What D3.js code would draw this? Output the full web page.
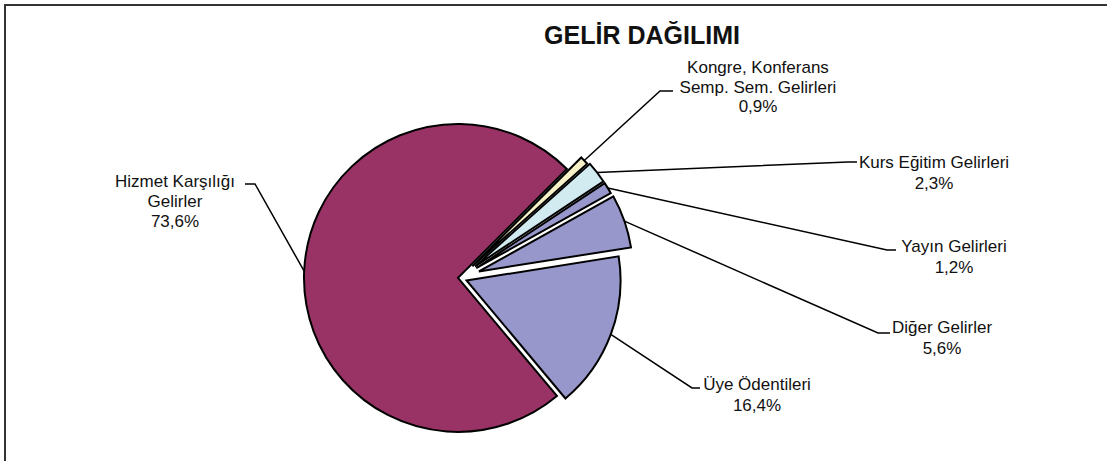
<!DOCTYPE html>
<html>
<head>
<meta charset="utf-8">
<script src="https://cdn.jsdelivr.net/npm/d3@7"></script>
<style>
  body { margin: 0; background: #fff; }
  text { font-family: "Liberation Sans", Arial, sans-serif; fill: #111; }
  .title { font-weight: bold; font-size: 25px; }
  .lbl { font-size: 17px; }
</style>
</head>
<body>
<div id="chart"></div>
<script>
const TITLE = 'GELİR DAĞILIMI';

// slices in clockwise order, starting from the small ones at the upper right
const names = ['Kongre', 'Kurs', 'Yayin', 'Diger', 'Uye', 'Hizmet'];
const values = [0.9, 2.3, 1.2, 5.6, 16.4, 73.6];
const labelLines = [
  ['Kongre, Konferans', 'Semp. Sem. Gelirleri', '0,9%'],
  ['Kurs Eğitim Gelirleri', '2,3%'],
  ['Yayın Gelirleri', '1,2%'],
  ['Diğer Gelirler', '5,6%'],
  ['Üye Ödentileri', '16,4%'],
  ['Hizmet Karşılığı', 'Gelirler', '73,6%'],
];
const colors = ['#f6f1c6', '#d2ebf1', '#9797cb', '#9797cb', '#9797cb', '#993366'];

const W = 1107, H = 461;
const cfg = {
  cx: 460, cy: 278, r: 154,
  startDeg: 45,
  explode: [17, 19, 19, 20, 7, 2],
};

// label placement: text centre x, first baseline, line gap, and leader elbow / end
const labelPos = {
  Kongre: { x: 758, y: 73, gap: 19.5, elbow: [660, 91], end: [673, 91] },
  Kurs:   { x: 934, y: 168, gap: 21, elbow: [848, 162], end: [857, 162] },
  Yayin:  { x: 954, y: 252, gap: 20.5, elbow: [887, 250], end: [896, 250] },
  Diger:  { x: 942, y: 333, gap: 20.5, elbow: [878, 333], end: [890, 333] },
  Uye:    { x: 757, y: 390, gap: 21, elbow: [692, 388], end: [700, 388] },
  Hizmet: { x: 175, y: 187, gap: 20, elbow: [255, 184], end: [245, 184] },
};

const svg = d3.select('#chart').append('svg')
  .attr('width', W)
  .attr('height', H);

// chart area frame (right / bottom edges fall outside the window)
svg.append('rect')
  .attr('x', 5).attr('y', 5)
  .attr('width', W + 20).attr('height', H + 20)
  .attr('fill', 'none')
  .attr('stroke', '#333')
  .attr('stroke-width', 2);

svg.append('text')
  .classed('title', true)
  .attr('x', 642).attr('y', 44)
  .attr('text-anchor', 'middle')
  .text(TITLE);

const rad = Math.PI / 180;
const pie = d3.pie()
  .sort(null)
  .value(d => d)
  .startAngle(cfg.startDeg * rad)
  .endAngle((cfg.startDeg + 360) * rad);
const arcs = pie(values);

const arc = d3.arc().innerRadius(0).outerRadius(cfg.r);

// offset of an exploded slice along its bisector (d3 angles: 0 = north, clockwise)
const offset = (a, i) => {
  const mid = (a.startAngle + a.endAngle) / 2;
  const e = cfg.explode[i];
  return [cfg.cx + e * Math.sin(mid), cfg.cy - e * Math.cos(mid)];
};

const g = svg.append('g');

g.selectAll('.slice')
  .data(arcs)
  .enter()
  .append('path')
  .classed('slice', true)
  .attr('transform', (d, i) => `translate(${offset(d, i)})`)
  .attr('d', arc)
  .attr('fill', (d, i) => colors[i])
  .attr('stroke', '#000')
  .attr('stroke-width', 2)
  .attr('stroke-linejoin', 'miter');

// leader lines from the outer arc to the labels
const leaders = arcs.map((d, i) => {
  const [ox, oy] = offset(d, i);
  const mid = (d.startAngle + d.endAngle) / 2;
  const p = labelPos[names[i]];
  return [
    [ox + cfg.r * Math.sin(mid), oy - cfg.r * Math.cos(mid)],
    p.elbow,
    p.end,
  ];
});

g.selectAll('.leader')
  .data(leaders)
  .enter()
  .append('path')
  .classed('leader', true)
  .attr('d', d3.line())
  .attr('fill', 'none')
  .attr('stroke', '#000')
  .attr('stroke-width', 1.5);

const labels = g.selectAll('.lbl')
  .data(labelLines)
  .enter()
  .append('text')
  .classed('lbl', true)
  .attr('text-anchor', 'middle');

labels.selectAll('tspan')
  .data((d, i) => d.map((s, k) => ({ s, k, p: labelPos[names[i]] })))
  .enter()
  .append('tspan')
  .attr('x', d => d.p.x)
  .attr('y', d => d.p.y + d.k * d.p.gap)
  .text(d => d.s);
</script>
</body>
</html>
